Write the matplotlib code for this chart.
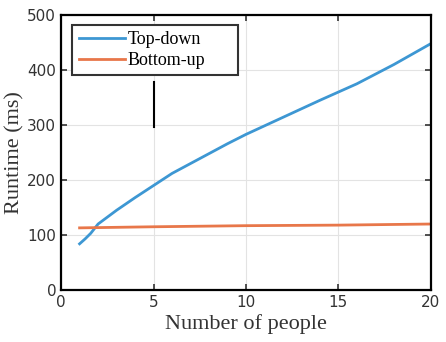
import matplotlib
matplotlib.use("Agg")
import matplotlib.pyplot as plt

people_td = [1, 1.3, 1.6, 2, 3, 4, 5, 6, 7, 8, 9, 10, 12, 14, 15, 16, 18, 20]
topdown = [84, 93, 103, 120, 145, 168, 190, 212, 230, 248, 266, 283, 314, 345, 360, 375, 410, 448]
people_bu = [1, 5, 10, 15, 20]
bottomup = [113, 115, 117, 118, 120]
marker_x = [5, 5]
marker_y = [297, 378]
xticks = [0, 5, 10, 15, 20]
yticks = [0, 100, 200, 300, 400, 500]

fig = plt.figure(figsize=(4.46, 3.42), dpi=100)
ax = fig.add_axes([0.137, 0.152, 0.829, 0.804])
ax.plot(people_td, topdown, color="#3d97d3", lw=2, label="Top-down")
ax.plot(people_bu, bottomup, color="#e8774a", lw=2, label="Bottom-up")
ax.plot(marker_x, marker_y, color="black", lw=1.5)
ax.set_xlim(0, 20)
ax.set_ylim(0, 500)
ax.set_xticks(xticks)
ax.set_yticks(yticks)
ax.grid(True, color="#e3e3e3", lw=0.8)
ax.set_axisbelow(True)
for s in ax.spines.values():
    s.set_linewidth(1.6)
ax.tick_params(direction="in", top=True, right=True, labelsize=11, colors="#333333", length=4, width=1.2)
ax.set_xlabel("Number of people", family="Liberation Serif", fontsize=16, color="#333333", labelpad=3)
ax.set_ylabel("Runtime (ms)", family="Liberation Serif", fontsize=16, color="#333333", labelpad=2)
leg = ax.legend(loc="upper left", bbox_to_anchor=(0.03, 0.964, 0.448, 0.0), mode="expand",
                prop={"family": "Liberation Serif", "size": 13}, fancybox=False,
                framealpha=1, edgecolor="#333333", borderpad=0.35, handlelength=2.6, handletextpad=0.1,
                labelspacing=0.2, borderaxespad=0.0)
leg.get_frame().set_linewidth(1.5)
fig.savefig("out.png", dpi=100)
